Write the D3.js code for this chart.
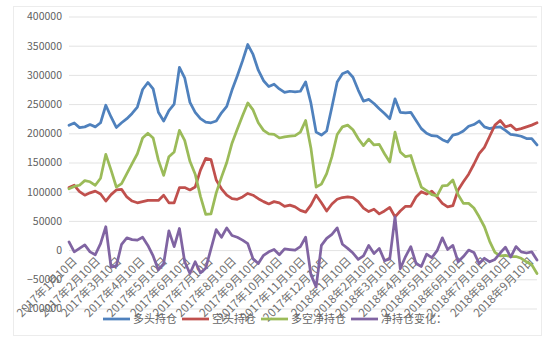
<!DOCTYPE html>
<html><head><meta charset="utf-8">
<script src="https://cdn.jsdelivr.net/npm/d3@7"></script>
<style>
body{margin:0;background:#fff}
svg{display:block}
text{font-family:"Noto Sans CJK SC","Noto Sans",sans-serif}
</style>
</head><body>
<svg id="c" width="552" height="341"></svg>
<script>
// ---- data ----
const seriesNames = ["多头持仓", "空头持仓", "多空净持仓", "净持仓变化："];
const firstDate = "2017-01-10"; // weekly reports
const longPos = [213700,217700,209700,211000,215000,211000,218000,248000,228000,210000,
  218000,225000,234000,245000,275000,287000,276000,236000,221000,239000,
  250000,313000,295000,253000,236000,225000,219000,218000,221000,235000,
  246000,274000,298000,324000,352000,335000,308000,290000,280000,284000,
  276000,270000,272000,271000,272000,288000,252000,202000,197000,204000,
  245000,288000,302000,306000,296000,274000,255000,258000,251000,242000,
  234000,225000,259000,236000,235000,236000,222000,208000,200000,196000,
  195000,189000,185000,197000,199000,204000,212000,215000,221000,211000,
  208000,210000,211000,205000,198000,197000,195000,191000,191000,180000];
const shortPos = [107000,111000,100000,94000,98000,101000,96000,84000,95000,103000,
  104000,91000,84000,81000,83000,85000,85000,85000,94000,81000,
  81000,107000,107000,103000,108000,137000,157000,155000,120000,105000,
  94000,88000,87000,91000,97000,94000,88000,83000,79000,83000,
  81000,75000,77000,74000,68000,65000,77000,94000,81000,67000,
  79000,87000,90000,91000,90000,83000,72000,66000,70000,62000,
  67000,73000,57000,67000,75000,75000,91000,100000,96000,101000,
  91000,80000,74000,76000,103000,117000,130000,147000,165000,176000,
  195000,214000,222000,211000,214000,206000,208000,211000,214000,218000];
const netPos = [105000,109000,111000,119000,117000,111000,123000,164000,137000,108000,
  114000,131000,148000,165000,192000,200000,192000,154000,128000,160000,
  168000,205000,188000,152000,130000,92000,61000,62000,98000,125000,
  150000,183000,207000,230000,252000,240000,218000,205000,199000,198000,
  192000,194000,195000,196000,202000,222000,175000,108000,113000,131000,
  160000,198000,211000,214000,206000,191000,179000,190000,180000,181000,
  165000,151000,202000,168000,160000,162000,134000,108000,102000,95000,
  93000,110000,111000,120000,95000,80000,80000,72000,57000,40000,
  15000,-4000,-10000,-9000,-11000,-11000,-14000,-20000,-25000,-40000];
const netChange = [14000,-3000,3000,9000,-3000,-8000,11000,40000,-29000,-27000,
  10000,21000,18000,17000,22000,8000,-10000,-34000,-23000,33000,
  6000,37000,-20000,-40000,-20000,-39000,-31000,2000,35000,22000,
  38000,25000,22000,17000,11000,-15000,-23000,-9000,-3000,1000,
  -8000,2000,1000,0,6000,22000,-42000,-63000,8000,20000,
  27000,38000,10000,3000,-5000,-16000,-10000,8000,-6000,3000,
  -18000,-15000,57000,-32000,-11000,6000,-23000,-28000,-7000,-13000,
  -1000,21000,1000,8000,-20000,-11000,0,-4000,-23000,-14000,
  -20000,-16000,-5000,5000,-12000,6000,-3000,-5000,-3000,-17000];
const xTickLabels = ["2017年1月10日","2017年2月10日","2017年3月10日","2017年4月10日","2017年5月10日",
  "2017年6月10日","2017年7月10日","2017年8月10日","2017年9月10日","2017年10月10日",
  "2017年11月10日","2017年12月10日","2018年1月10日","2018年2月10日","2018年3月10日",
  "2018年4月10日","2018年5月10日","2018年6月10日","2018年7月10日","2018年8月10日","2018年9月10日"];
const yTicks = [-100000,-50000,0,50000,100000,150000,200000,250000,300000,350000,400000];

// ---- build ----
const colors = ["#4F81BD", "#C0504D", "#9BBB59", "#8064A2"];
const allSeries = [longPos, shortPos, netPos, netChange];
const t0 = d3.timeParse("%Y-%m-%d")(firstDate);
const dates = longPos.map((_, i) => d3.timeDay.offset(t0, 7 * i));
const parseLabel = s => { const m = s.match(/(\d+)年(\d+)月(\d+)日/); return new Date(+m[1], +m[2] - 1, +m[3]); };

const svg = d3.select("#c");
const x = d3.scaleTime().domain([dates[0], dates[dates.length - 1]]).range([69, 537]);
const y = d3.scaleLinear().domain([-100000, 400000]).range([308.5, 16.5]);

// outer frame
svg.append("rect").attr("x", 13.5).attr("y", 6.5).attr("width", 528).attr("height", 329)
  .attr("fill", "none").attr("stroke", "#ececec");

// gridlines + y labels
const yAxis = d3.axisLeft(y).tickValues(yTicks).tickFormat(d3.format("d"))
  .tickSize(-(x.range()[1] - x.range()[0])).tickPadding(7);
const gy = svg.append("g").attr("transform", "translate(69,0)").call(yAxis);
gy.select(".domain").remove();
gy.selectAll(".tick line").attr("stroke", "#e3e3e3");
gy.selectAll(".tick text").attr("fill", "#5f5f5f").style("font-size", "10.5px")
  .style("font-family", '"Noto Sans CJK SC","Noto Sans",sans-serif');

// x labels (next to zero axis, rotated)
const gx = svg.append("g");
gx.selectAll("text").data(xTickLabels).join("text")
  .attr("transform", d => `translate(${x(parseLabel(d)) + 3},${y(0) + 6}) rotate(-45)`)
  .attr("text-anchor", "end").attr("dy", "0.7em")
  .attr("fill", "#707070").style("font-size", "11.5px")
  .text(d => d);

// lines
const line = d3.line().x((d, i) => x(dates[i])).y(d => y(d));
svg.append("g").selectAll("path").data(allSeries).join("path")
  .attr("d", d => line(d)).attr("fill", "none")
  .attr("stroke", (d, i) => colors[i]).attr("stroke-width", 2.75)
  .attr("stroke-linejoin", "round").attr("stroke-linecap", "round");

// legend
const lg = svg.append("g");
let lx = 103;
const ly = 319;
seriesNames.forEach((name, i) => {
  lg.append("line").attr("x1", lx).attr("x2", lx + 27).attr("y1", ly).attr("y2", ly)
    .attr("stroke", colors[i]).attr("stroke-width", 2.75);
  const t = lg.append("text").attr("x", lx + 30).attr("y", ly).attr("dy", "0.35em")
    .attr("fill", "#666").style("font-size", "11px").text(name);
  lx = lx + 30 + t.node().getComputedTextLength() + 5;
});
</script>
</body></html>
